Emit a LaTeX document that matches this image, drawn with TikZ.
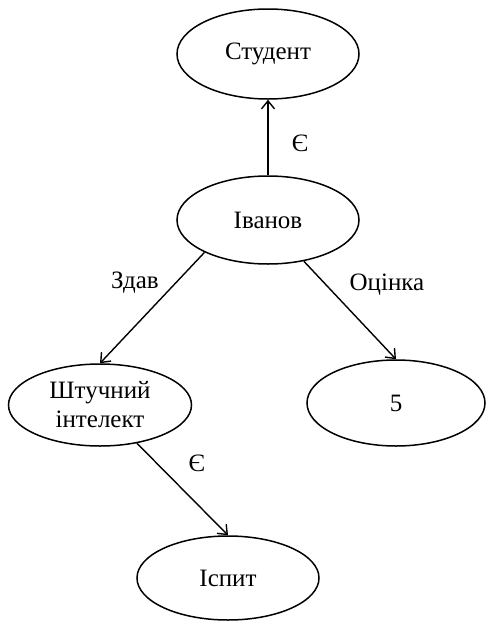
\documentclass[tikz,border=0pt]{standalone}
\usepackage{fontspec}
\setmainfont{Liberation Serif}
\usetikzlibrary{shapes.geometric,arrows.meta}
\tikzset{
  concept/.style={ellipse, draw, line width=1.5pt, inner sep=0pt, align=center,
    font=\fontsize{25}{29}\selectfont},
  link/.style={line width=1.4pt, -{Straight Barb[length=8pt,width=13pt,line width=1.4pt]}},
  lbl/.style={font=\fontsize{25}{29}\selectfont, inner sep=0pt}
}
\begin{document}
\begin{tikzpicture}[x=1pt,y=-1pt]
\useasboundingbox (0,0) rectangle (486,622);
\node[concept, minimum width=182, minimum height=90] (student) at (268,54) {Студент};
\node[concept, minimum width=182, minimum height=88] (ivanov) at (268,220) {Іванов};
\node[concept, minimum width=183, minimum height=82] (ai) at (100,405) {Штучний\\інтелект};
\node[concept, minimum width=178, minimum height=86] (five) at (396,403) {5};
\node[concept, minimum width=182, minimum height=84] (exam) at (228,578) {Іспит};
\draw[link, line width=1.8pt] (ivanov.north) -- (student.south);
\draw[link] (ivanov.207) -- (ai.north);
\draw[link] (ivanov.311) -- (five.north);
\draw[link] (ai.314) -- (exam.north);
\node[lbl] (l1) at (300,143) {Є};
\node[lbl] (l2) at (135,283) {Здав};
\node[lbl] (l3) at (387,285) {Оцінка};
\node[lbl] (l4) at (197,463) {Є};
\end{tikzpicture}
\end{document}
